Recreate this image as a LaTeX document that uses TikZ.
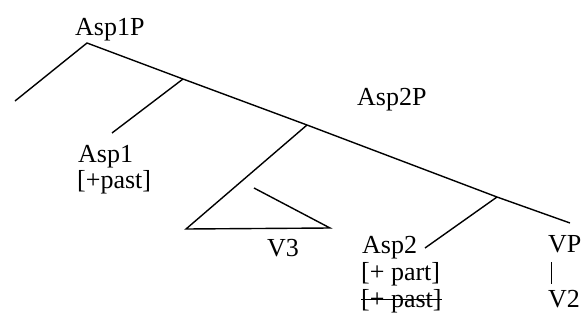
\documentclass[tikz,border=0pt]{standalone}
\usepackage{fontspec}
\setmainfont{Liberation Serif}
\usetikzlibrary{positioning}

\begin{document}
\begin{tikzpicture}[
    x=1pt, y=-1pt,
    label/.style={anchor=base west, inner sep=0pt, font=\fontsize{26}{30}\selectfont},
    branch/.style={line width=1.4pt},
    thinbar/.style={line width=0.5pt}
]
\useasboundingbox (0,0) rectangle (583,324);

% Tree junctions and free ends
\coordinate (root) at (87,43);
\coordinate (spec1) at (15,101);
\coordinate (j1) at (183,79);
\coordinate (asp1end) at (112,133);
\coordinate (j2) at (307,125);
\coordinate (triL) at (186,229);
\coordinate (triR) at (330,228);
\coordinate (triT) at (254,188);
\coordinate (j3) at (497,197);
\coordinate (asp2end) at (425,248);
\coordinate (vpend) at (570,223);

% Labels
\node[label] (asp1p) at (75,35) {Asp1P};
\node[label] (asp1) at (78,162) {Asp1};
\node[label] (past1) at (77,188) {[+past]};
\node[label] (v3) at (267,256) {V3};
\node[label] (asp2p) at (357,105) {Asp2P};
\node[label] (asp2) at (362,253) {Asp2};
\node[label] (part2) at (361,280) {[+ part]};
\node[label] (past2) at (361,307) {[+ past]};
\node[label] (vp) at (548,252) {VP};
\node[label] (v2) at (548,307) {V2};
\coordinate (bartop) at (551,262);
\coordinate (barbot) at (551,284);

% Branches
\draw[branch] (spec1) -- (root) -- (j1) -- (j2) -- (j3) -- (vpend);
\draw[branch] (j1) -- (asp1end);
\draw[branch] (j2) -- (triL) -- (triR) -- (triT);
\draw[branch] (j3) -- (asp2end);
\draw[thinbar] (bartop) -- (barbot);

% struck out feature
\draw[line width=0.8pt] ([yshift=8pt]past2.base west) -- ([yshift=8pt]past2.base east);

\end{tikzpicture}
\end{document}
